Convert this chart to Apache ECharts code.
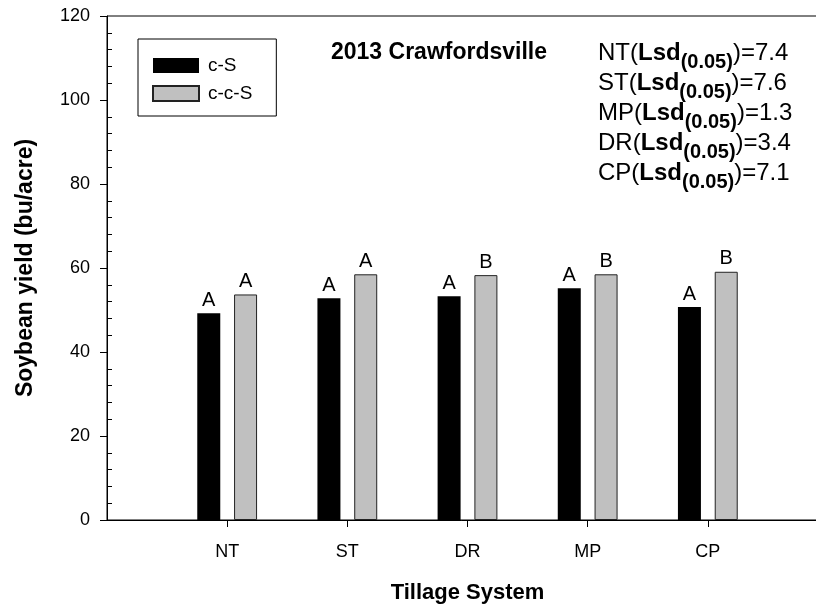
<!DOCTYPE html>
<html>
<head>
<meta charset="utf-8">
<script src="https://cdn.jsdelivr.net/npm/echarts@6/dist/echarts.min.js"></script>
<style>
  html, body { margin: 0; padding: 0; background: #fff; }
  #main { width: 816px; height: 608px; }
</style>
</head>
<body>
<div id="main"></div>
<script>
var categories = ['NT', 'ST', 'DR', 'MP', 'CP']
var csYield = [49.2, 52.8, 53.3, 55.2, 50.7]
var ccsYield = [53.7, 58.5, 58.3, 58.5, 59.1]
var csLetters = ['A', 'A', 'A', 'A', 'A']
var ccsLetters = ['A', 'A', 'B', 'B', 'B']
var lsdNames = ['NT', 'ST', 'MP', 'DR', 'CP']
var lsdValues = ['7.4', '7.6', '1.3', '3.4', '7.1']
var yTicks = [0, 20, 40, 60, 80, 100, 120]

var font = 'Liberation Sans, Arial, sans-serif'

// minor ticks every 4, drawn inward, skipping the major ones
var minorTicks = []
for (var v = 0; v <= 120; v += 4) {
  if (yTicks.indexOf(v) < 0) minorTicks.push(v)
}
var xPos = categories.map(function (c, i) { return i + 1 })

var dom = document.getElementById('main')
var myChart = echarts.init(dom)
var option = null

// Lsd lines in the upper right
var lsdGraphics = lsdNames.map(function (name, i) {
  return {
    type: 'text',
    left: 598,
    top: 41 + 30 * i,
    style: {
      text: '{n|' + name + '(}{b|Lsd}{s|(0.05)}{n|)=' + lsdValues[i] + '}',
      fill: '#000',
      rich: {
        n: { fontSize: 24, lineHeight: 24, fontFamily: font, verticalAlign: 'top', fill: '#000' },
        b: { fontSize: 24, lineHeight: 24, fontFamily: font, fontWeight: 'bold', verticalAlign: 'top', fill: '#000' },
        s: { fontSize: 20, lineHeight: 20, fontFamily: font, fontWeight: 'bold', verticalAlign: 'top', padding: [11, 0, 0, 0], fill: '#000' }
      }
    }
  }
})

option = {
  backgroundColor: '#fff',
  animation: false,
  title: {
    text: '2013 Crawfordsville',
    left: 331,
    top: 41,
    padding: 0,
    textStyle: { fontSize: 23, fontWeight: 'bold', fontFamily: font, color: '#000' }
  },
  legend: {
    left: 138,
    top: 39,
    orient: 'vertical',
    padding: [17, 24, 13, 14],
    borderColor: '#000',
    borderWidth: 1,
    itemWidth: 46,
    itemHeight: 15,
    itemGap: 9,
    icon: 'rect',
    textStyle: { fontSize: 19, fontFamily: font, color: '#000', lineHeight: 17, padding: [0, 0, 0, 4] },
    data: ['c-S', 'c-c-S']
  },
  grid: {
    left: 107,
    top: 16,
    width: 721,
    height: 504,
    outerBoundsMode: 'none',
    show: true,
    borderColor: '#000',
    borderWidth: 1
  },
  xAxis: {
    type: 'value',
    min: 0,
    max: 6,
    interval: 1,
    name: 'Tillage System',
    nameLocation: 'middle',
    nameGap: 62,
    nameTextStyle: { fontSize: 22, fontWeight: 'bold', fontFamily: font, color: '#000' },
    splitLine: { show: false },
    axisLine: { show: true, lineStyle: { color: '#000', width: 1 } },
    axisTick: { show: true, length: 7, customValues: xPos, lineStyle: { color: '#000' } },
    axisLabel: {
      customValues: xPos,
      margin: 23,
      fontSize: 18,
      fontFamily: font,
      color: '#000',
      formatter: function (v) { return categories[v - 1] }
    }
  },
  yAxis: [
    {
      type: 'value',
      min: 0,
      max: 120,
      interval: 20,
      name: 'Soybean yield (bu/acre)',
      nameLocation: 'middle',
      nameGap: 70,
      nameTextStyle: { fontSize: 23, fontWeight: 'bold', fontFamily: font, color: '#000' },
      splitLine: { show: false },
      axisLine: { show: true, lineStyle: { color: '#000', width: 1 } },
      axisTick: { show: true, length: 7, lineStyle: { color: '#000' } },
      axisLabel: { margin: 17, fontSize: 18, fontFamily: font, color: '#000' }
    },
    {
      type: 'value',
      min: 0,
      max: 120,
      position: 'left',
      splitLine: { show: false },
      axisLine: { show: false },
      axisLabel: { show: false },
      axisTick: { show: true, inside: true, length: 5, customValues: minorTicks, lineStyle: { color: '#000' } }
    }
  ],
  series: [
    {
      name: 'c-S',
      type: 'bar',
      barWidth: 23,
      barGap: '60%',
      itemStyle: { color: '#000' },
      label: {
        show: true,
        position: 'top',
        distance: 3,
        fontSize: 20,
        fontFamily: font,
        color: '#000',
        formatter: function (p) { return csLetters[p.dataIndex] }
      },
      data: categories.map(function (c, i) { return [i + 1, csYield[i]] })
    },
    {
      name: 'c-c-S',
      type: 'bar',
      barWidth: 23,
      itemStyle: { color: '#c0c0c0', borderColor: '#222', borderWidth: 1 },
      label: {
        show: true,
        position: 'top',
        distance: 3,
        fontSize: 20,
        fontFamily: font,
        color: '#000',
        formatter: function (p) { return ccsLetters[p.dataIndex] }
      },
      data: categories.map(function (c, i) { return [i + 1, ccsYield[i]] })
    }
  ],
  graphic: lsdGraphics
}

if (option && typeof option === 'object') {
  myChart.setOption(option, true)
}
</script>
</body>
</html>
